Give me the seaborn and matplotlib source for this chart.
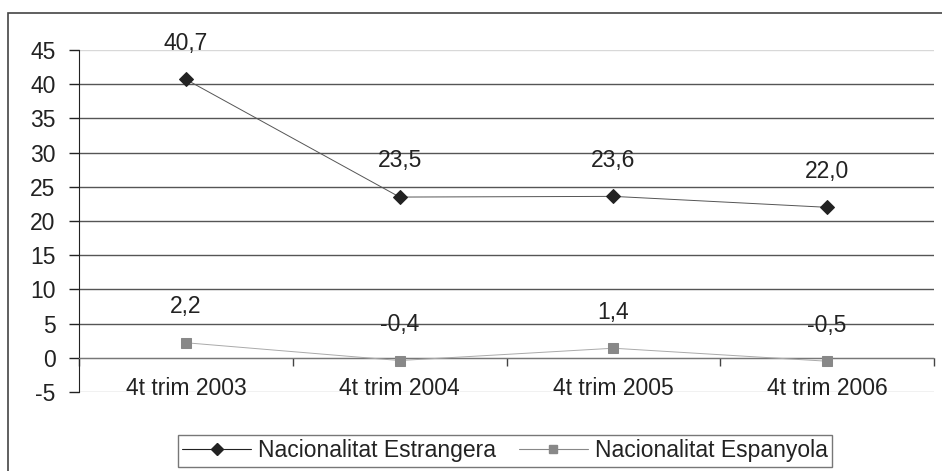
import pandas as pd
import numpy as np
import matplotlib.pyplot as plt
import seaborn as sns
from matplotlib.patches import Rectangle
from matplotlib.lines import Line2D

# Chart data
categories = ['4t trim 2003', '4t trim 2004', '4t trim 2005', '4t trim 2006']
estrangera = [40.7, 23.5, 23.6, 22.0]
espanyola = [2.2, -0.4, 1.4, -0.5]
series_names = ['Nacionalitat Estrangera', 'Nacionalitat Espanyola']

df = pd.DataFrame({
    'trim': categories * 2,
    'pos': list(range(len(categories))) * 2,
    'valor': estrangera + espanyola,
    'serie': [series_names[0]] * 4 + [series_names[1]] * 4,
})

sns.set_style('white')
plt.rcParams['font.family'] = ['Liberation Sans', 'DejaVu Sans']
FS = 16.5

W, H = 942, 471
fig = plt.figure(figsize=(W / 100, H / 100), dpi=100)
ax = fig.add_axes([79 / W, 1 - 392 / H, (934 - 79) / W, (392 - 50) / H])

# outer border of the chart area
fig.patches.append(Rectangle((8 / W, -0.05), 1.05, 1 - 13 / H + 0.05, transform=fig.transFigure,
                             fill=False, edgecolor='#444444', linewidth=1.2))

ax.set_xlim(-0.5, 3.5)
ax.set_ylim(-5, 45)
yticks = np.arange(-5, 50, 5)

# horizontal gridlines
for v in yticks:
    if v == 45:
        c = '#d8d8d8'
    elif v == -5:
        c = '#bbbbbb'
    elif v == 0:
        c = '#777777'
    else:
        c = '#555555'
    ax.axhline(v, color=c, linewidth=1.0, zorder=0)

sns.lineplot(data=df, x='pos', y='valor', hue='serie', style='serie',
             palette={series_names[0]: '#222222', series_names[1]: '#888888'},
             markers={series_names[0]: 'D', series_names[1]: 's'},
             dashes=False, markersize=7, linewidth=0.7, ax=ax, legend=False, zorder=3)
# the connecting lines in the reference are thin grey
for ln, c in zip(ax.lines[-2:], ['#555555', '#aaaaaa']):
    ln.set_color(c)
    ln.set_markerfacecolor('#222222' if c == '#555555' else '#888888')
    ln.set_markeredgecolor(ln.get_markerfacecolor())

# data labels
for vals in (estrangera, espanyola):
    for i, v in enumerate(vals):
        ax.annotate(f'{v:.1f}'.replace('.', ','), (i, v), xytext=(0, 26),
                    textcoords='offset points', ha='center', va='center',
                    fontsize=FS, color='#222222')

# axes styling
for s in ['top', 'right']:
    ax.spines[s].set_visible(False)
ax.spines['left'].set_color('#222222')
ax.spines['bottom'].set_position(('data', 0))
ax.spines['bottom'].set_color('#777777')

ax.set_yticks(yticks)
ax.set_yticklabels([str(v) for v in yticks])
ax.tick_params(axis='y', length=7, width=1, color='#222222', labelsize=FS,
               labelcolor='#222222', pad=10, left=True)
ax.set_xticks(range(len(categories)))
ax.set_xticklabels(categories)
ax.set_xticks(np.arange(-0.5, 4, 1), minor=True)
ax.tick_params(axis='x', which='major', length=0, pad=14, labelsize=FS, labelcolor='#222222')
ax.tick_params(axis='x', which='minor', length=6, width=1, color='#444444', bottom=True, direction='out')
ax.set_xlabel('')
ax.set_ylabel('')

# legend
handles = [
    Line2D([], [], color='#222222', linewidth=0.8, marker='D', markersize=6,
           markerfacecolor='#222222', markeredgecolor='#222222'),
    Line2D([], [], color='#888888', linewidth=0.8, marker='s', markersize=6,
           markerfacecolor='#888888', markeredgecolor='#888888'),
]
leg = fig.legend(handles, series_names, loc='center', ncol=2,
                 bbox_to_anchor=((163 + 847) / 2 / W, 1 - 451 / H),
                 frameon=True, fancybox=False, fontsize=FS, handlelength=3.0,
                 columnspacing=1.0, handletextpad=0.3, borderpad=0.2, borderaxespad=0)
leg.get_frame().set_edgecolor('#555555')
leg.get_frame().set_linewidth(1.0)
for t in leg.get_texts():
    t.set_color('#222222')

fig.savefig('out.png', dpi=100)
